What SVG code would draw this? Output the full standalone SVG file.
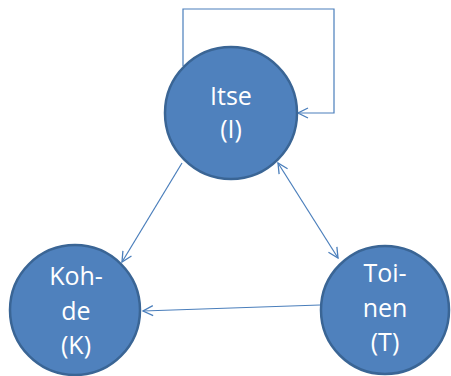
<svg xmlns="http://www.w3.org/2000/svg" width="451" height="376" viewBox="0 0 451 376">
<defs>
<style>
.node{fill:#4F81BD;stroke:#3A6595;stroke-width:2.5}
.lbl{fill:#FFFFFF;font-family:"Open Sans","Liberation Sans",sans-serif;font-size:25px;text-anchor:middle}
.conn{fill:none;stroke:#4A7EBB;stroke-width:1.2}
</style>
<marker id="arr" viewBox="0 0 12 12" refX="11" refY="6" markerWidth="12" markerHeight="12" markerUnits="userSpaceOnUse" orient="auto-start-reverse">
<path d="M1,1 L11,6 L1,11" fill="none" stroke="#4A7EBB" stroke-width="1.3"/>
</marker>
</defs>
<rect width="451" height="376" fill="#FFFFFF"/>
<g id="connectors">
<polyline class="conn" points="183,66 183,9 334,9 334,113 298,113" marker-end="url(#arr)"/>
<line class="conn" x1="182" y1="163" x2="122" y2="262" marker-end="url(#arr)"/>
<line class="conn" x1="278" y1="163" x2="338" y2="258" marker-start="url(#arr)" marker-end="url(#arr)"/>
<line class="conn" x1="320" y1="305" x2="143" y2="311" marker-end="url(#arr)"/>
</g>
<g id="node-itse">
<circle class="node" cx="231" cy="113" r="66"/>
<text class="lbl" x="231" y="105">Itse</text>
<text class="lbl" x="231" y="138">(I)</text>
</g>
<g id="node-kohde">
<circle class="node" cx="75" cy="310" r="65"/>
<text class="lbl" x="76" y="285">Koh-</text>
<text class="lbl" x="76" y="320">de</text>
<text class="lbl" x="76" y="354">(K)</text>
</g>
<g id="node-toinen">
<circle class="node" cx="385" cy="310" r="64"/>
<text class="lbl" x="385" y="282">Toi-</text>
<text class="lbl" x="385" y="317">nen</text>
<text class="lbl" x="385" y="351">(T)</text>
</g>
</svg>
